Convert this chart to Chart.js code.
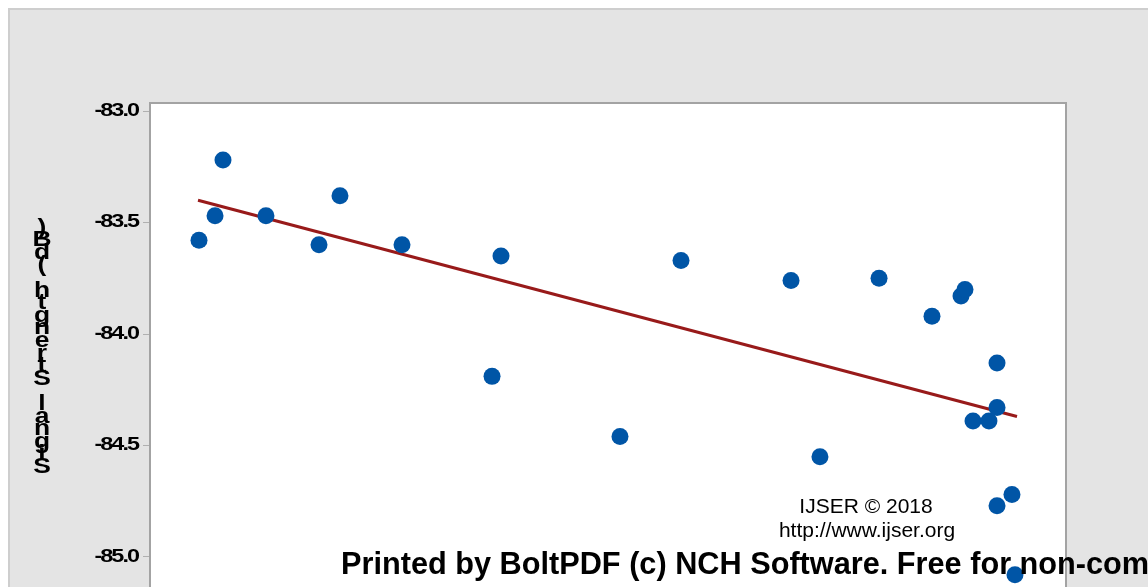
<!DOCTYPE html>
<html>
<head>
<meta charset="utf-8">
<script src="https://cdn.jsdelivr.net/npm/chart.js@4"></script>
<style>
  html, body { margin: 0; padding: 0; background: #fff; overflow: hidden; }
  #wrap { width: 1148px; height: 700px; position: relative; }
</style>
</head>
<body>
<div id="wrap"><canvas id="chart"></canvas></div>
<script>
// x position of each measurement (horizontal axis is cut off in the source)
const xValues = [5.35, 7.10, 7.97, 12.66, 18.45, 20.74, 27.51, 37.34, 38.32, 51.31, 57.97, 69.98,
                 73.14, 79.59, 85.37, 88.54, 88.97, 89.85, 91.59, 92.47, 92.47, 92.47, 94.10, 94.43];
// signal strength (dB)
const signalValues = [-83.58, -83.47, -83.22, -83.47, -83.60, -83.38, -83.60, -84.19, -83.65, -84.46, -83.67, -83.76,
                      -84.55, -83.75, -83.92, -83.83, -83.80, -84.39, -84.39, -84.13, -84.33, -84.77, -84.72, -85.08];
// fitted line end points
const fitX = [5.24, 94.65];
const fitY = [-83.40, -84.37];

const yTicks = [-83.0, -83.5, -84.0, -84.5, -85.0];
const yTitle = "Signal Strength (dB)";

const points = xValues.map((x, i) => ({ x: x, y: signalValues[i] }));
const fitLine = fitX.map((x, i) => ({ x: x, y: fitY[i] }));

const pagePlugin = {
  id: 'page',
  beforeDraw(chart) {
    const ctx = chart.ctx;
    const a = chart.chartArea;
    ctx.save();
    ctx.fillStyle = '#ffffff';
    ctx.fillRect(0, 0, chart.width, chart.height);
    ctx.fillStyle = '#e4e4e4';
    ctx.fillRect(8, 8, chart.width, chart.height);
    ctx.strokeStyle = '#cecece';
    ctx.lineWidth = 2;
    ctx.beginPath();
    ctx.moveTo(9, chart.height);
    ctx.lineTo(9, 9);
    ctx.lineTo(chart.width, 9);
    ctx.stroke();
    ctx.fillStyle = '#ffffff';
    ctx.fillRect(a.left, a.top, a.right - a.left, a.bottom - a.top);
    ctx.strokeStyle = '#a3a3a3';
    ctx.lineWidth = 2;
    ctx.beginPath();
    ctx.moveTo(a.left, a.top);
    ctx.lineTo(a.right, a.top);
    ctx.lineTo(a.right, a.bottom);
    ctx.stroke();

    // axis title: upright, stretched characters stacked bottom to top
    ctx.fillStyle = '#000';
    ctx.font = 'bold 22px "Liberation Sans"';
    ctx.textAlign = 'center';
    ctx.textBaseline = 'alphabetic';
    yTitle.split('').forEach((c, i) => {
      ctx.save();
      ctx.translate(42, 473 - i * 12.6);
      ctx.scale(1.2, 1);
      ctx.fillText(c, 0, 0);
      ctx.restore();
    });

    // y tick labels, wide and tightly spaced like the source
    const ys = chart.scales.y;
    ctx.font = 'bold 18px "Liberation Sans"';
    ctx.textAlign = 'right';
    ctx.textBaseline = 'middle';
    ctx.letterSpacing = '-1.5px';
    ys.ticks.forEach(t => {
      ctx.save();
      ctx.translate(138, ys.getPixelForValue(t.value));
      ctx.scale(1.3, 1);
      ctx.fillText(t.value.toFixed(1), 0, 0);
      ctx.restore();
    });
    ctx.letterSpacing = '0px';
    ctx.restore();
  },
  afterDraw(chart) {
    const ctx = chart.ctx;
    ctx.save();
    ctx.fillStyle = '#000';
    ctx.textBaseline = 'alphabetic';
    ctx.textAlign = 'center';
    ctx.font = '21px "Liberation Sans"';
    ctx.fillText('IJSER \u00A9 2018', 866, 513);
    ctx.fillText('http://www.ijser.org', 867, 537);
    ctx.textAlign = 'left';
    ctx.font = 'bold 30.7px "Liberation Sans"';
    ctx.fillText('Printed by BoltPDF (c) NCH Software. Free for non-com', 341, 574);
    ctx.restore();
  }
};

new Chart(document.getElementById('chart'), {
  type: 'scatter',
  data: {
    datasets: [
      {
        label: 'Signal',
        data: points,
        order: 0,
        pointRadius: 8.5,
        pointHoverRadius: 8.5,
        pointBackgroundColor: '#0055a6',
        pointBorderWidth: 0
      },
      {
        type: 'line',
        label: 'Fit',
        data: fitLine,
        order: 1,
        borderColor: '#981a1a',
        borderWidth: 3,
        pointRadius: 0,
        fill: false
      }
    ]
  },
  options: {
    responsive: true,
    maintainAspectRatio: false,
    animation: false,
    layout: { padding: { left: 0, top: 103, right: 82, bottom: 20 } },
    plugins: { legend: { display: false }, tooltip: { enabled: false } },
    scales: {
      x: { type: 'linear', display: false, min: 0, max: 100 },
      y: {
        min: -85.5516,
        max: -82.9641,
        afterFit(scale) { scale.width = 150; },
        afterBuildTicks(scale) { scale.ticks = yTicks.map(v => ({ value: v })); },
        border: { color: '#a3a3a3', width: 2 },
        grid: { drawOnChartArea: false, tickLength: 7, color: '#b0b0b0' },
        ticks: { display: false }
      }
    }
  },
  plugins: [pagePlugin]
});
</script>
</body>
</html>
